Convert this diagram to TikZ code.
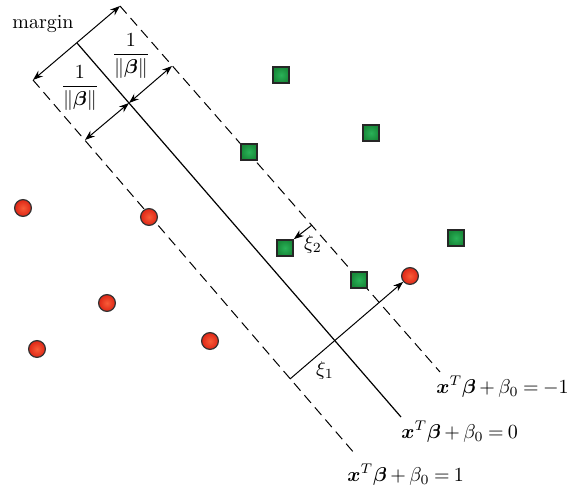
\documentclass[tikz,border=0pt]{standalone}
\usepackage{amsmath}
\usepackage{bm}
\usetikzlibrary{arrows.meta}
\definecolor{redin}{RGB}{248,92,56}
\definecolor{redout}{RGB}{222,38,22}
\definecolor{greenin}{RGB}{42,178,88}
\definecolor{greenout}{RGB}{24,138,58}

\begin{document}
\begin{tikzpicture}[
            x=0.5pt, y=-0.5pt,
            redpt/.style={circle, draw=black!80, line width=0.6pt, inner sep=0pt, minimum size=8.4pt, inner color=redin, outer color=redout},
            greenpt/.style={rectangle, draw=black!85, line width=0.8pt, inner sep=0pt, minimum size=8pt, inner color=greenin, outer color=greenout},
            marginline/.style={dash pattern=on 5pt off 3pt, line width=0.5pt},
            eqlabel/.style={anchor=north west, inner sep=0pt, execute at begin node={\thickmuskip=4mu plus 2mu\medmuskip=3mu}},
            arrow/.style={-{Stealth[length=5pt,width=3.6pt]}, line width=0.5pt},
            twoway/.style={{Stealth[length=5pt,width=3.6pt]}-{Stealth[length=5pt,width=3.6pt]}, line width=0.5pt}
        ]
        \useasboundingbox (0,0) rectangle (570,491);

        % separating hyperplane and the two margin lines
        \coordinate (c0) at (77,43);
        \coordinate (c1) at (401,417);
        \coordinate (u0) at (120,6);
        \coordinate (u1) at (440,372);
        \coordinate (l0) at (33,80);
        \coordinate (l1) at (355,454);
        \draw[line width=0.6pt] (c0) -- (c1);
        \draw[marginline] (u0) -- (u1);
        \draw[marginline] (l0) -- (l1);

        \node[eqlabel] (eqminus) at ([shift={(-4,4)}]u1) {$\bm{x}^T\bm{\beta}+\beta_0=-1$};
        \node[eqlabel] (eqzero) at ([shift={(0,4)}]c1) {$\bm{x}^T\bm{\beta}+\beta_0=0$};
        \node[eqlabel] (eqplus) at ([shift={(-8,10)}]l1) {$\bm{x}^T\bm{\beta}+\beta_0=1$};

        % margin widths
        \draw[twoway] (l0) -- (u0);
        \node (marginlab) at (43,24) {margin};

        \coordinate (p) at (129,103);
        \coordinate (pu) at (172,66);
        \coordinate (pl) at (85,140);
        \draw[twoway] (p) -- (pu);
        \draw[twoway] (pl) -- (p);
        \node (halfu) at (131,56) {$\dfrac{1}{\|\bm{\beta}\|}$};
        \node (halfl) at (80,88) {$\dfrac{1}{\|\bm{\beta}\|}$};

        % data points
        \node[redpt] (r1) at (23,208) {};
        \node[redpt] (r2) at (149,217) {};
        \node[redpt] (r3) at (410,276) {};
        \node[redpt] (r4) at (107,303) {};
        \node[redpt] (r5) at (37,349) {};
        \node[redpt] (r6) at (210,341) {};

        \node[greenpt] (g1) at (281,75) {};
        \node[greenpt] (g2) at (371,133) {};
        \node[greenpt] (g3) at (249,152) {};
        \node[greenpt] (g4) at (456,238) {};
        \node[greenpt] (g5) at (285,248) {};
        \node[greenpt] (g6) at (359,280) {};

        % slack variables
        \coordinate (s2) at (312,225);
        \draw[arrow] (s2) -- (g5.north east);
        \node (xi2) at (313,245) {$\xi_2$};

        \coordinate (s1) at (290,379);
        \draw[arrow] (s1) -- (r3);
        \node (xi1) at (325,371) {$\xi_1$};

    \end{tikzpicture}
\end{document}
